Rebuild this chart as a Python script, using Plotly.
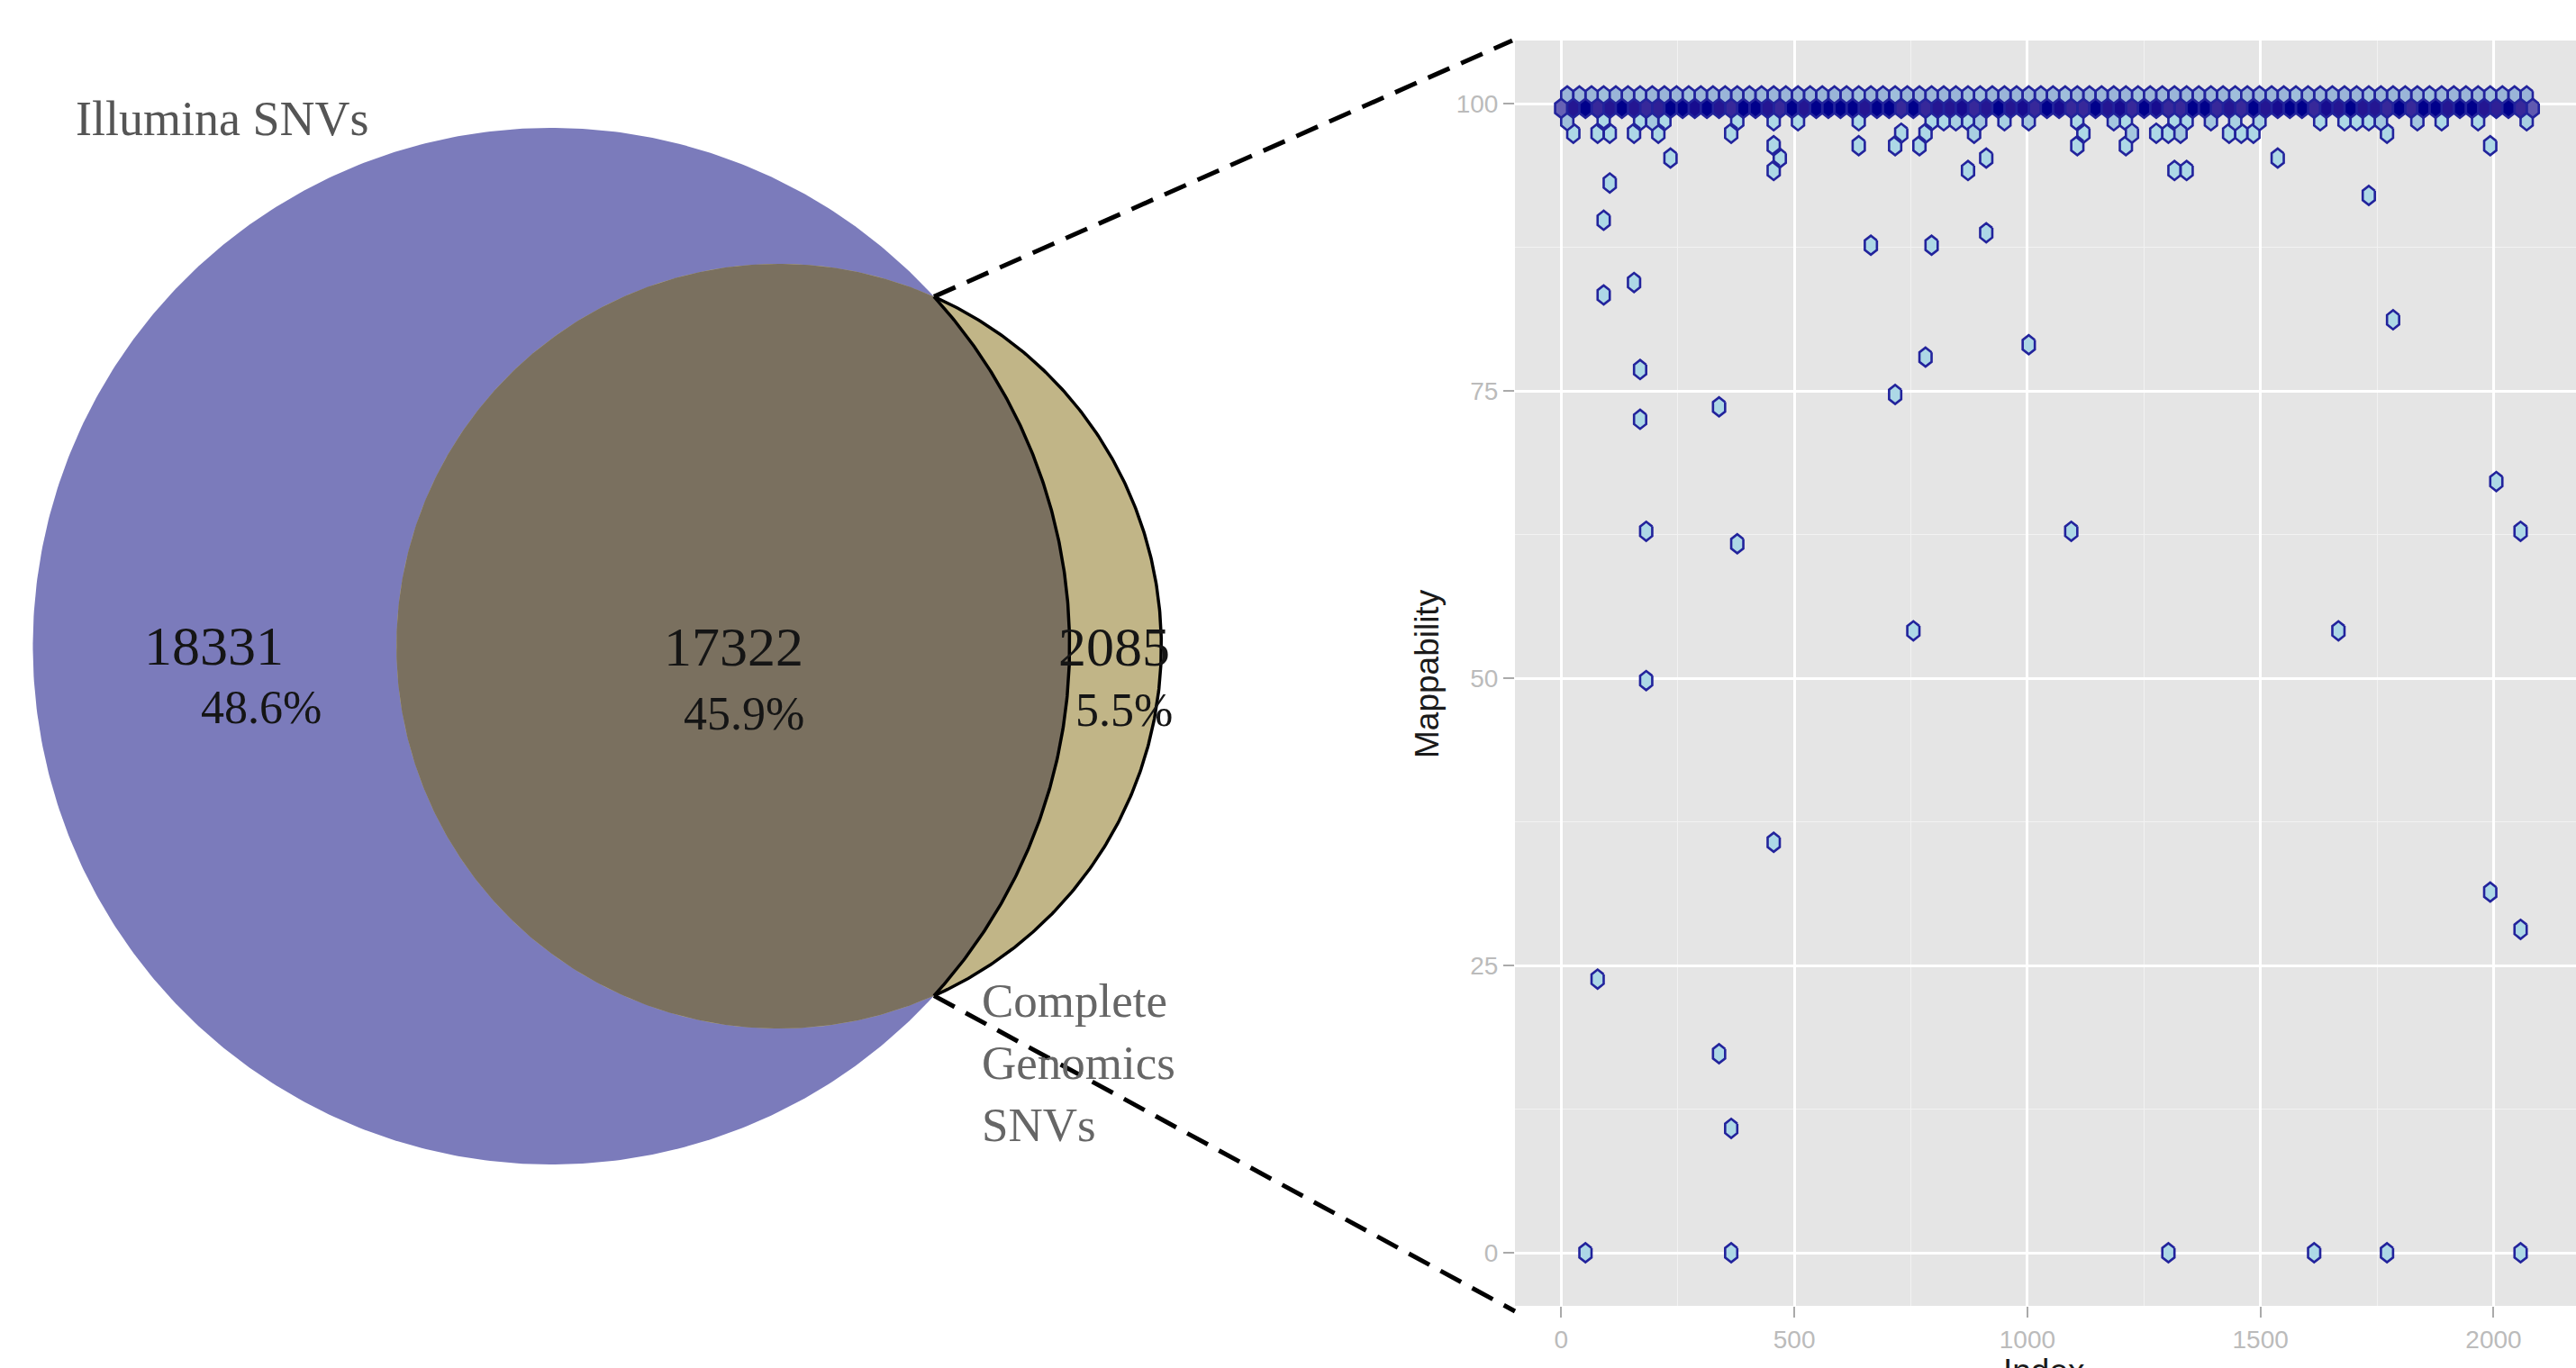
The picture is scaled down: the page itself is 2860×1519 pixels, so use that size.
import numpy as np
import plotly.graph_objects as go

# ---------------- Venn data ----------------
only_illumina = 18331
shared = 17322
only_cg = 2085
pct_labels = ["48.6%", "45.9%", "5.5%"]
set_labels = ["Illumina SNVs", "Complete<br>Genomics<br>SNVs"]

# ---------------- Hexbin data (Mappability vs Index) ----------------
BIN_W = 26.05    # index units per hex column
ROW_H = 1.0825   # mappability units between hex rows
TOP_ROW = 93
PEAK_ROW = 92

top_row_counts = [5, 5, 5, 4, 5, 5, 4, 5, 5, 5, 4, 5, 5, 5, 5, 5, 5, 5, 5, 5,
                  5, 5, 5, 5, 4, 5, 5, 4, 5, 5, 5, 5, 5, 4, 4, 5, 5, 5, 5, 5,
                  5, 4, 5, 5, 5, 5, 5, 4, 5, 5, 5, 5, 5, 5, 5, 4, 5, 5, 5, 5,
                  4, 5, 5, 5, 5, 5, 4, 5, 5, 5, 5, 4, 5, 5, 5, 5, 4, 5, 5, 5]

peak_row_counts = [15, 24, 26, 22, 24, 26, 24, 22, 23, 26, 26, 25, 26, 24, 22, 26, 26, 24, 22, 26,
                   24, 26, 26, 26, 26, 24, 26, 26, 22, 26, 22, 24, 24, 25, 22, 24, 26, 24, 25, 22,
                   26, 25, 22, 22, 26, 24, 25, 22, 26, 25, 22, 22, 26, 26, 22, 24, 22, 26, 24, 25,
                   26, 26, 22, 25, 24, 26, 24, 24, 22, 26, 22, 26, 26, 24, 26, 26, 24, 23, 26, 22, 16]

cell_row = ([91] * 33 + [90] * 18 + [89] * 7 + [88] * 4 + [87] * 4 +
            [86, 85, 83, 82, 81, 81, 78, 77, 75, 73, 72, 71, 69, 68, 67, 62,
             58, 58, 58, 57, 50, 50, 46, 33, 29, 26, 22, 16, 10,
             0, 0, 0, 0, 0, 0])
cell_col = ([0, 3, 6, 7, 8, 14, 17, 19, 24, 30, 31, 32, 33, 34, 36, 38, 42, 45, 46, 50,
             51, 53, 55, 57, 62, 64, 65, 66, 67, 70, 72, 75, 79] +
            [1, 3, 4, 6, 8, 14, 28, 30, 34, 43, 47, 49, 50, 51, 55, 56, 57, 68] +
            [17, 24, 27, 29, 42, 46, 76] +
            [9, 18, 35, 59] +
            [17, 33, 50, 51] +
            [4, 66, 3, 35, 25, 30, 6, 3, 68, 38, 30, 6, 27, 13, 6, 77,
             7, 42, 79, 14, 29, 64, 7, 17, 76, 79, 3, 13, 14,
             2, 14, 50, 62, 68, 79])
cell_count = ([4, 1, 1, 3, 1, 1, 1, 1, 1, 1, 1, 2, 1, 3, 2, 3, 1, 3, 1, 1,
               1, 3, 2, 2, 1, 1, 1, 1, 3, 3, 1, 1, 2] +
              [1, 1, 1, 1, 1, 1, 1, 1, 2, 1, 3, 1, 1, 3, 1, 1, 1, 1] +
              [1] * 7 + [1] * 4 + [1] * 4 + [1] * 35)

x_ticks = [0, 500, 1000, 1500, 2000]
y_ticks = [0, 25, 50, 75, 100]

# ---------------- helpers ----------------
W, H = 2860, 1519
LOW, HIGH = "#ADD8E6", "#00008B"
M_RGB2XYZ = np.array([[0.4124, 0.3576, 0.1805], [0.2126, 0.7152, 0.0722], [0.0193, 0.1192, 0.9505]])
WHITE = np.array([0.95047, 1.0, 1.08883])


def hex_to_lab(hc):
    rgb = np.array([int(hc[i:i + 2], 16) for i in (1, 3, 5)]) / 255.0
    lin = np.where(rgb <= 0.04045, rgb / 12.92, ((rgb + 0.055) / 1.055) ** 2.4)
    xyz = M_RGB2XYZ @ lin / WHITE
    f = np.where(xyz > 0.008856, np.cbrt(xyz), 7.787 * xyz + 16 / 116)
    return np.array([116 * f[1] - 16, 500 * (f[0] - f[1]), 200 * (f[1] - f[2])])


def lab_to_hex(lab):
    L, a, b = lab
    fy = (L + 16) / 116
    f = np.array([fy + a / 500, fy, fy - b / 200])
    xyz = np.where(f ** 3 > 0.008856, f ** 3, (f - 16 / 116) / 7.787) * WHITE
    lin = np.clip(np.linalg.inv(M_RGB2XYZ) @ xyz, 0, 1)
    rgb = np.where(lin <= 0.0031308, 12.92 * lin, 1.055 * lin ** (1 / 2.4) - 0.055)
    rgb = np.clip(np.round(rgb * 255), 0, 255).astype(int)
    return "#%02x%02x%02x" % tuple(rgb)


lab_lo, lab_hi = hex_to_lab(LOW), hex_to_lab(HIGH)

# assemble all cells
rows = [TOP_ROW] * len(top_row_counts) + [PEAK_ROW] * len(peak_row_counts) + cell_row
cols = list(range(len(top_row_counts))) + list(range(len(peak_row_counts))) + cell_col
counts = top_row_counts + peak_row_counts + cell_count
nmax = max(counts)

hw = BIN_W / 2
q = ROW_H / 3 * 1.15
groups = {}
for r, c, n in zip(rows, cols, counts):
    cx = BIN_W * (c + 0.5 * (r % 2))
    cy = ROW_H * r
    xs = [cx + hw, cx, cx - hw, cx - hw, cx, cx + hw, cx + hw, None]
    ys = [cy + q, cy + 2 * q, cy + q, cy - q, cy - 2 * q, cy - q, cy + q, None]
    g = groups.setdefault(n, ([], []))
    g[0].extend(xs)
    g[1].extend(ys)

fig = go.Figure()
for n in sorted(groups):
    t = (n - 1) / (nmax - 1)
    col = lab_to_hex(lab_lo + t * (lab_hi - lab_lo))
    fig.add_trace(go.Scatter(x=groups[n][0], y=groups[n][1], mode="lines", fill="toself",
                             fillcolor=col, line=dict(color="#22239C", width=2.6),
                             xaxis="x", yaxis="y", showlegend=False, hoverinfo="skip"))

# ---------------- Venn (pixel-unit axes x2/y2) ----------------
PX_PER_SQRT = 3.048
r1 = PX_PER_SQRT * np.sqrt(only_illumina + shared)
r2 = PX_PER_SQRT * np.sqrt(shared + only_cg)
target = PX_PER_SQRT ** 2 * shared * np.pi


def lens_area(d):
    a1 = np.arccos(np.clip((d * d + r1 * r1 - r2 * r2) / (2 * d * r1), -1, 1))
    a2 = np.arccos(np.clip((d * d + r2 * r2 - r1 * r1) / (2 * d * r2), -1, 1))
    k = max((-d + r1 + r2) * (d + r1 - r2) * (d - r1 + r2) * (d + r1 + r2), 0)
    return r1 * r1 * a1 + r2 * r2 * a2 - 0.5 * np.sqrt(k)


lo, hi = r1 - r2 + 1e-6, r1 + r2
for _ in range(100):
    mid = (lo + hi) / 2
    if lens_area(mid) > target:
        lo = mid
    else:
        hi = mid
d = (lo + hi) / 2

c1x, cy0 = 612.0, 717.5
c2x = c1x + d
phi1 = np.arccos((d * d + r1 * r1 - r2 * r2) / (2 * d * r1))   # from +x at purple centre
phi2 = np.arccos((d * d + r2 * r2 - r1 * r1) / (2 * d * r2))   # from -x at tan centre
psi = np.pi - phi2                                               # from +x at tan centre

th = np.linspace(0, 2 * np.pi, 600)
fig.add_trace(go.Scatter(x=c1x + r1 * np.cos(th), y=cy0 + r1 * np.sin(th), mode="lines", fill="toself",
                         fillcolor="#7B7BBB", line=dict(width=0), xaxis="x2", yaxis="y2",
                         showlegend=False, hoverinfo="skip"))
fig.add_trace(go.Scatter(x=c2x + r2 * np.cos(th), y=cy0 + r2 * np.sin(th), mode="lines", fill="toself",
                         fillcolor="#C1B587", line=dict(width=0), xaxis="x2", yaxis="y2",
                         showlegend=False, hoverinfo="skip"))
a_p = np.linspace(-phi1, phi1, 300)
a_t = np.linspace(psi, 2 * np.pi - psi, 400)
lx = np.concatenate([c1x + r1 * np.cos(a_p), c2x + r2 * np.cos(a_t)])
ly = np.concatenate([cy0 + r1 * np.sin(a_p), cy0 + r2 * np.sin(a_t)])
fig.add_trace(go.Scatter(x=lx, y=ly, mode="lines", fill="toself", fillcolor="#7A705F",
                         line=dict(width=0), xaxis="x2", yaxis="y2", showlegend=False, hoverinfo="skip"))
# crescent outline
a_o = np.linspace(-psi, psi, 300)
ox = list(c1x + r1 * np.cos(a_p)) + [None] + list(c2x + r2 * np.cos(a_o))
oy = list(cy0 + r1 * np.sin(a_p)) + [None] + list(cy0 + r2 * np.sin(a_o))
fig.add_trace(go.Scatter(x=ox, y=oy, mode="lines", line=dict(color="black", width=3.5),
                         xaxis="x2", yaxis="y2", showlegend=False, hoverinfo="skip"))

# panel geometry (pixels)
PX_L, PX_T, PX_B = 1682, 45, 1450
top_pt = (c1x + r1 * np.cos(phi1), cy0 - r1 * np.sin(phi1))
bot_pt = (c1x + r1 * np.cos(phi1), cy0 + r1 * np.sin(phi1))
for (px, py), (ex, ey) in [(top_pt, (PX_L - 3, PX_T)), (bot_pt, (PX_L, PX_B + 6))]:
    fig.add_shape(type="line", xref="x2", yref="y2", x0=px, y0=py, x1=ex, y1=ey,
                  line=dict(color="black", width=5, dash="26px,14px"), layer="above")

# panel background
fig.add_shape(type="rect", xref="x domain", yref="y domain", x0=0, x1=1, y0=0, y1=1,
              fillcolor="#E5E5E5", line=dict(width=0), layer="below")

serif = "Liberation Serif"
ann = []
ann.append(dict(x=82, y=132, text=set_labels[0], xanchor="left", yanchor="middle",
                font=dict(family=serif, size=54, color="#555555")))
ann.append(dict(x=1088, y=1180, text=set_labels[1], xanchor="left", yanchor="middle", align="left",
                font=dict(family=serif, size=53, color="#666666")))
num_font = dict(family=serif, size=62, color="#151515")
pct_font = dict(family=serif, size=52, color="#151515")
ann.append(dict(x=237, y=717, text=f"{only_illumina}", font=num_font))
ann.append(dict(x=290, y=785, text=pct_labels[0], font=pct_font))
ann.append(dict(x=814, y=718, text=f"{shared}", font=num_font))
ann.append(dict(x=826, y=792, text=pct_labels[1], font=pct_font))
ann.append(dict(x=1237, y=718, text=f"{only_cg}", font=num_font))
ann.append(dict(x=1248, y=788, text=pct_labels[2], font=pct_font))
ann.append(dict(x=1584, y=748, text="Mappability", textangle=-90,
                font=dict(family="Liberation Sans", size=37, color="#1a1a1a")))
ann.append(dict(x=2269, y=1500, text="Index", yanchor="top",
                font=dict(family="Liberation Sans", size=37, color="#1a1a1a")))
for a in ann:
    a.setdefault("xanchor", "center")
    a.setdefault("yanchor", "middle")
    a.update(xref="x2", yref="y2", showarrow=False)

tickfont = dict(family="Liberation Sans", size=28, color="#BBBBBB")
fig.update_layout(
    width=W, height=H, margin=dict(l=0, r=0, t=0, b=0),
    paper_bgcolor="white", plot_bgcolor="rgba(0,0,0,0)",
    annotations=ann,
    xaxis=dict(domain=[PX_L / W, 1.0], range=[-99.1, 2176.8], tickmode="array", tickvals=x_ticks,
               showgrid=True, gridcolor="white", gridwidth=2.5, zeroline=False, showline=False,
               ticks="outside", ticklen=12, tickwidth=2, tickcolor="#AAAAAA", tickfont=tickfont,
               minor=dict(tickmode="linear", tick0=250, dtick=500, showgrid=True,
                          gridcolor="#F2F2F2", gridwidth=1.3, ticks=""),
               anchor="y"),
    yaxis=dict(domain=[1 - PX_B / H, 1 - PX_T / H], range=[-4.62, 105.49], tickmode="array",
               tickvals=y_ticks, showgrid=True, gridcolor="white", gridwidth=2.5, zeroline=False,
               showline=False, ticks="outside", ticklen=12, tickwidth=2, tickcolor="#AAAAAA",
               tickfont=tickfont,
               minor=dict(tickmode="linear", tick0=12.5, dtick=25, showgrid=True,
                          gridcolor="#F2F2F2", gridwidth=1.3, ticks=""),
               anchor="x"),
    xaxis2=dict(domain=[0, 1], range=[0, W], visible=False, anchor="y2"),
    yaxis2=dict(domain=[0, 1], range=[H, 0], visible=False, anchor="x2"),
)

fig.write_html("out.html", config={"displayModeBar": False},
               post_script="document.body.style.margin='0';document.body.style.overflow='hidden';")
